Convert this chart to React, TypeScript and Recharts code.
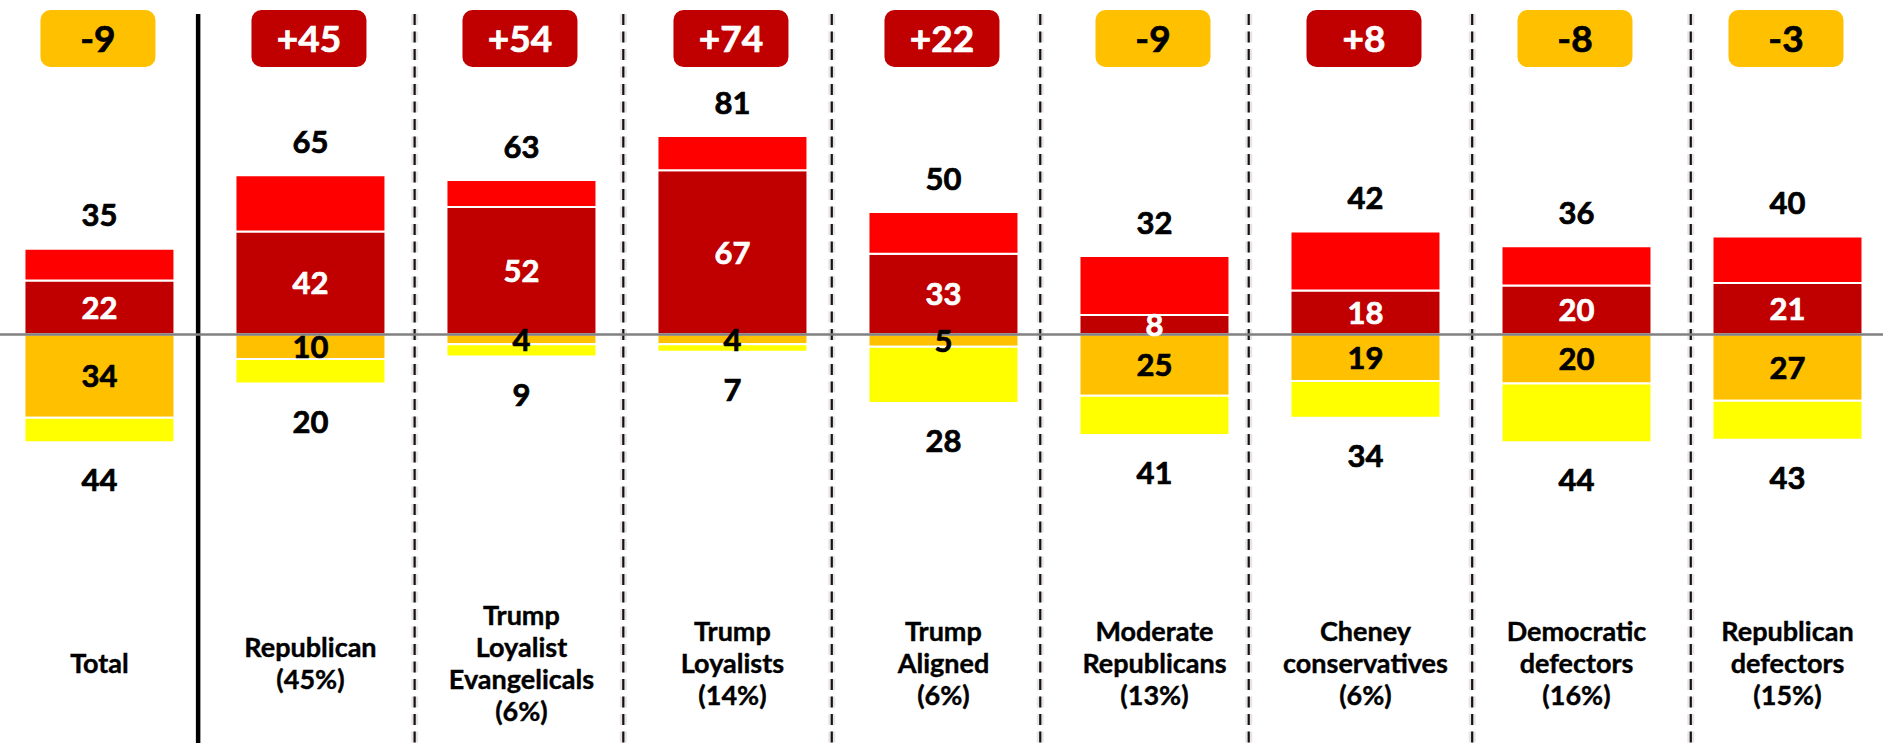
import React from 'react';
import { ComposedChart, Bar, XAxis, YAxis, ReferenceLine, LabelList } from 'recharts';

// ---- data ----
const categories = [
  'Total',
  'Republican (45%)',
  'Trump Loyalist Evangelicals (6%)',
  'Trump Loyalists (14%)',
  'Trump Aligned (6%)',
  'Moderate Republicans (13%)',
  'Cheney conservatives (6%)',
  'Democratic defectors (16%)',
  'Republican defectors (15%)',
];
const categoryLines = [
  ['Total'],
  ['Republican', '(45%)'],
  ['Trump', 'Loyalist', 'Evangelicals', '(6%)'],
  ['Trump', 'Loyalists', '(14%)'],
  ['Trump', 'Aligned', '(6%)'],
  ['Moderate', 'Republicans', '(13%)'],
  ['Cheney', 'conservatives', '(6%)'],
  ['Democratic', 'defectors', '(16%)'],
  ['Republican', 'defectors', '(15%)'],
];
const strongFav = [22, 42, 52, 67, 33, 8, 18, 20, 21];
const someFav = [13, 23, 11, 14, 17, 24, 24, 16, 19];
const someUnfav = [34, 10, 4, 4, 5, 25, 19, 20, 27];
const strongUnfav = [10, 10, 5, 3, 23, 16, 15, 24, 16];
const totalFav = [35, 65, 63, 81, 50, 32, 42, 36, 40];
const totalUnfav = [44, 20, 9, 7, 28, 41, 34, 44, 43];
const netScore = [-9, 45, 54, 74, 22, -9, 8, -8, -3];
const solidDividers = [0.47];
const dashedDividers = [1.496, 2.485, 3.473, 4.461, 5.449, 6.508, 7.544];

// ---- style / layout constants ----
const W = 1883;
const H = 743;
const X_DOMAIN: [number, number] = [-0.469, 8.455];
const Y_DOMAIN: [number, number] = [-166.7, 136.5];
const DIVIDER_TOP = 130.8;
const FONT = 'Lato, "Open Sans", sans-serif';
const C_DARKRED = '#C00000';
const C_RED = '#FF0000';
const C_ORANGE = '#FFC000';
const C_YELLOW = '#FFFF00';
const NUM_FS = 31;
const BADGE_FS = 37;
const CAT_FS = 27;
const CAT_LH = 32;
const CAT_CENTER = 663;

const chartData = categories.map((name, i) => ({
  idx: i,
  name,
  strongFav: strongFav[i],
  someFav: someFav[i],
  someUnfav: -someUnfav[i],
  strongUnfav: -strongUnfav[i],
}));

const box = (p: any) => {
  const vb = p.viewBox && typeof p.viewBox.x === 'number' ? p.viewBox : p;
  const x = Number(vb.x), y = Number(vb.y), w = Number(vb.width), h = Number(vb.height);
  return { x, y, w, h, top: Math.min(y, y + h), bottom: Math.max(y, y + h), cx: x + w / 2, cy: y + h / 2 };
};

const numText = (cx: number, cy: number, txt: string | number, fill: string, fs = NUM_FS) => (
  <text
    x={cx}
    y={cy + fs * 0.36}
    textAnchor="middle"
    fontFamily={FONT}
    fontWeight={700}
    fontSize={fs}
    fill={fill}
    stroke={fill}
    strokeWidth={0.7}
  >
    {txt}
  </text>
);

const TopTotal = (p: any) => {
  const b = box(p);
  return numText(b.cx, b.top - 33.5, totalFav[p.index], '#000');
};
const BottomTotal = (p: any) => {
  const b = box(p);
  return numText(b.cx, b.bottom + 38, totalUnfav[p.index], '#000');
};
const StrongInner = (p: any) => {
  const b = box(p);
  return numText(b.cx, b.cy, strongFav[p.index], '#fff');
};
const UnfavInner = (p: any) => {
  const b = box(p);
  return numText(b.cx, b.cy, someUnfav[p.index], '#000');
};
const Badge = (p: any) => {
  const b = box(p);
  const v = netScore[p.index];
  const pos = v > 0;
  const bw = 115, bh = 57, top = 10;
  return (
    <g>
      <rect x={b.cx - 1.5 - bw / 2} y={top} width={bw} height={bh} rx={10} ry={10} fill={pos ? C_DARKRED : C_ORANGE} />
      {numText(b.cx - 1.5, top + bh / 2, pos ? `+${v}` : `${v}`, pos ? '#fff' : '#000', BADGE_FS)}
    </g>
  );
};
const CatLabel = (p: any) => {
  const b = box(p);
  const lines = categoryLines[p.index];
  const start = CAT_CENTER - ((lines.length - 1) * CAT_LH) / 2;
  return (
    <text textAnchor="middle" fontFamily={FONT} fontWeight={700} fontSize={CAT_FS} fill="#000" stroke="#000" strokeWidth={0.4}>
      {lines.map((ln, k) => (
        <tspan key={k} x={b.cx} y={start + k * CAT_LH + CAT_FS * 0.36}>
          {ln}
        </tspan>
      ))}
    </text>
  );
};

export default function App() {
  return (
    <div style={{ position: 'absolute', left: 0, top: 0, width: W, height: H, background: '#fff' }}>
      <ComposedChart
        width={W}
        height={H}
        data={chartData}
        stackOffset="sign"
        margin={{ top: 0, right: 0, bottom: 0, left: 0 }}
      >
        <XAxis dataKey="idx" type="number" domain={X_DOMAIN} allowDataOverflow hide />
        <YAxis type="number" domain={Y_DOMAIN} allowDataOverflow hide />
        {dashedDividers.map((d) => (
          <ReferenceLine
            key={`g${d}`}
            segment={[{ x: d, y: DIVIDER_TOP }, { x: d, y: Y_DOMAIN[0] }]}
            stroke="#000"
            strokeOpacity={0.1}
            strokeWidth={7}
            strokeDasharray="11 6.5"
          />
        ))}
        {dashedDividers.map((d) => (
          <ReferenceLine
            key={`d${d}`}
            segment={[{ x: d, y: DIVIDER_TOP }, { x: d, y: Y_DOMAIN[0] }]}
            stroke="#1a1010"
            strokeWidth={2.2}
            strokeDasharray="11 6.5"
          />
        ))}
        {solidDividers.map((d) => (
          <ReferenceLine
            key={`s${d}`}
            segment={[{ x: d, y: DIVIDER_TOP }, { x: d, y: Y_DOMAIN[0] }]}
            stroke="#000"
            strokeWidth={4.5}
          />
        ))}
        <Bar dataKey="strongFav" stackId="s" fill={C_DARKRED} stroke="#fff" strokeWidth={2} barSize={150} isAnimationActive={false}>
          <LabelList dataKey="strongFav" content={StrongInner} />
          <LabelList dataKey="strongFav" content={Badge} />
          <LabelList dataKey="strongFav" content={CatLabel} />
        </Bar>
        <Bar dataKey="someFav" stackId="s" fill={C_RED} stroke="#fff" strokeWidth={2} barSize={150} isAnimationActive={false}>
          <LabelList dataKey="someFav" content={TopTotal} />
        </Bar>
        <Bar dataKey="someUnfav" stackId="s" fill={C_ORANGE} stroke="#fff" strokeWidth={2} barSize={150} isAnimationActive={false}>
          <LabelList dataKey="someUnfav" content={UnfavInner} />
        </Bar>
        <Bar dataKey="strongUnfav" stackId="s" fill={C_YELLOW} stroke="#fff" strokeWidth={2} barSize={150} isAnimationActive={false}>
          <LabelList dataKey="strongUnfav" content={BottomTotal} />
        </Bar>
        <ReferenceLine y={0} stroke="#808080" strokeWidth={2.3} />
      </ComposedChart>
    </div>
  );
}
